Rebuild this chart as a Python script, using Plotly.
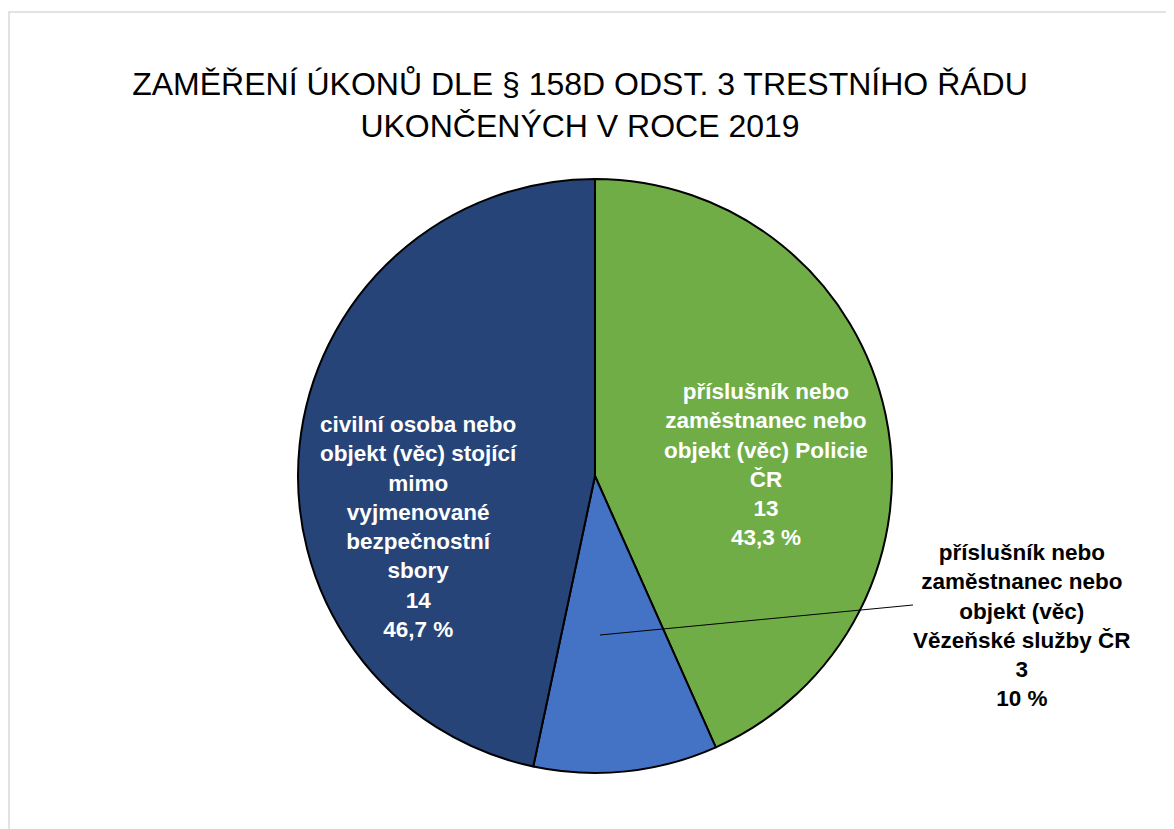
import plotly.graph_objects as go

W, H = 1174, 829
OFF = 8  # page body margin offset

categories = [
    "příslušník nebo<br>zaměstnanec nebo<br>objekt (věc) Policie<br>ČR",
    "příslušník nebo<br>zaměstnanec nebo<br>objekt (věc)<br>Vězeňské služby ČR",
    "civilní osoba nebo<br>objekt (věc) stojící<br>mimo<br>vyjmenované<br>bezpečnostní<br>sbory",
]
values = [13, 3, 14]
colors = ["#70AD47", "#4472C4", "#264478"]
title_text = "ZAMĚŘENÍ ÚKONŮ DLE § 158D ODST. 3 TRESTNÍHO ŘÁDU<br>UKONČENÝCH V ROCE 2019"

total = sum(values)


def fmt_pct(v):
    p = v / total * 100
    s = f"{p:.1f}"
    if s.endswith(".0"):
        s = s[:-2]
    return s.replace(".", ",") + " %"


labels_full = [f"<b>{c}<br>{v}<br>{fmt_pct(v)}</b>" for c, v in zip(categories, values)]


def px(x):
    return (x - OFF) / W


def py(y):
    return 1 - (y - OFF) / H


fig = go.Figure(go.Pie(
    labels=["Policie ČR", "Vězeňská služba ČR", "civilní osoba"],
    values=values,
    sort=False,
    direction="clockwise",
    rotation=0,
    marker=dict(colors=colors, line=dict(color="black", width=2)),
    textinfo="none",
    hoverinfo="label+value+percent",
    showlegend=False,
    domain=dict(x=[px(298), px(892)], y=[py(773), py(179)]),
))

label_pos = [(766, 464, "white"), (1022, 625, "black"), (418, 527, "white")]
for txt, (x, y, col) in zip(labels_full, label_pos):
    fig.add_annotation(
        x=px(x), y=py(y), xref="paper", yref="paper",
        text=txt, showarrow=False,
        font=dict(family="Liberation Sans, Arial, sans-serif", size=22.5, color=col),
        align="center", xanchor="center", yanchor="middle",
    )

# leader line for small slice
fig.add_shape(type="line", xref="paper", yref="paper",
              x0=px(600), y0=py(635), x1=px(913), y1=py(605),
              line=dict(color="black", width=1))

# outer frame
fig.add_shape(type="rect", xref="paper", yref="paper",
              x0=px(9), y0=py(12), x1=px(1190), y1=py(845),
              line=dict(color="#d9d9d9", width=1.5), layer="below")

fig.update_layout(
    width=W, height=H,
    margin=dict(l=0, r=0, t=0, b=0),
    paper_bgcolor="white", plot_bgcolor="white",
    title=dict(text=title_text, x=px(580), xanchor="center", y=py(95), yanchor="middle",
               font=dict(family="Liberation Sans, Arial, sans-serif", size=32, color="black")),
)

fig.write_html("out.html")
